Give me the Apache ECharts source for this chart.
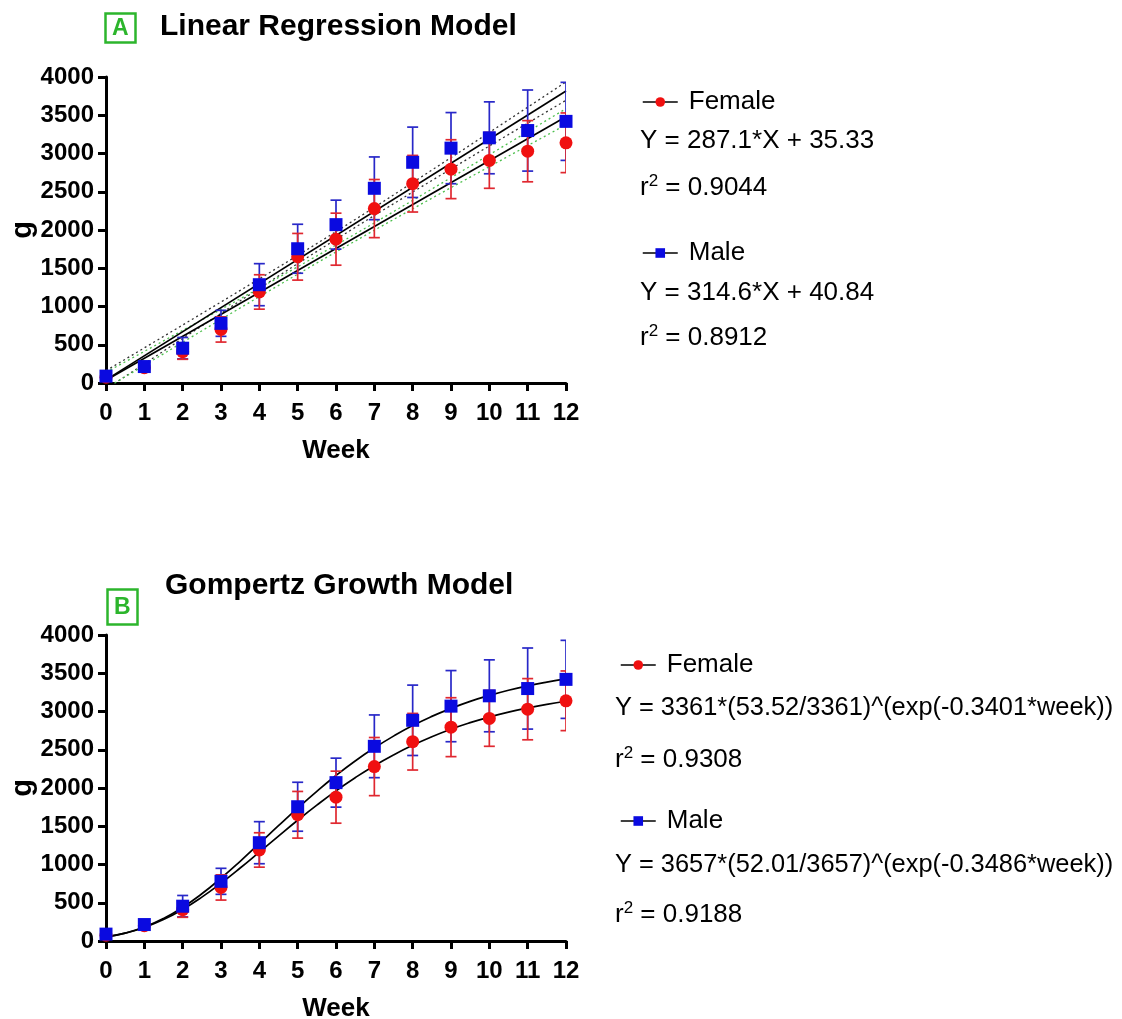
<!DOCTYPE html>
<html>
<head>
<meta charset="utf-8">
<script src="https://cdn.jsdelivr.net/npm/echarts@6/dist/echarts.min.js"></script>
<style>
  html, body { margin: 0; padding: 0; background: #fff; }
  #draw { width: 1122px; height: 1019px; }
</style>
</head>
<body>
<div id="draw"></div>
<script>
// weeks and measured body weight (g), mean and SD per sex
var weeks = [0, 1, 2, 3, 4, 5, 6, 7, 8, 9, 10, 11, 12];
var femaleMean = [75, 200, 410, 700, 1190, 1650, 1880, 2280, 2605, 2795, 2910, 3030, 3140];
var femaleSD = [30, 35, 100, 165, 225, 305, 340, 380, 370, 385, 365, 400, 390];
var maleMean = [90, 215, 455, 780, 1285, 1755, 2070, 2545, 2885, 3070, 3205, 3300, 3420];
var maleSD = [35, 40, 140, 170, 275, 320, 320, 410, 460, 465, 470, 530, 510];

// linear fit lines (panel A) read at week 0 and 12
var fitWeeks = [0, 12];
var femaleLinear = [35, 3481];
var maleLinear = [41, 3816];
// 95% bands around the linear fits, read per week
var femaleBandHi = [140, 413, 688, 962, 1239, 1519, 1803, 2093, 2387, 2684, 2984, 3285, 3586];
var femaleBandLo = [-70, 231, 532, 832, 1129, 1423, 1713, 1997, 2277, 2554, 2828, 3103, 3376];
var maleBandHi = [161, 459, 758, 1059, 1361, 1667, 1978, 2296, 2620, 2946, 3275, 3605, 3936];
var maleBandLo = [-79, 251, 582, 911, 1237, 1561, 1878, 2190, 2496, 2798, 3099, 3397, 3696];

// gompertz curves (panel B), read every half week
var curveWeeks = [0, 0.5, 1, 1.5, 2, 2.5, 3, 3.5, 4, 4.5, 5, 5.5, 6, 6.5, 7, 7.5, 8, 8.5, 9, 9.5, 10, 10.5, 11, 11.5, 12];
var femaleGompertz = [54, 102, 177, 280, 413, 573, 756, 954, 1162, 1372, 1578, 1776, 1963, 2135, 2292, 2433, 2559, 2671, 2769, 2854, 2928, 2992, 3046, 3094, 3134];
var maleGompertz = [52, 103, 182, 294, 440, 617, 821, 1042, 1274, 1508, 1737, 1957, 2163, 2353, 2524, 2678, 2816, 2936, 3040, 3132, 3210, 3278, 3336, 3385, 3427];

var yTicks = [0, 500, 1000, 1500, 2000, 2500, 3000, 3500, 4000];

var FONT = 'Arial, "Liberation Sans", sans-serif';
var RED = '#f01010';
var RED_BAR = '#e02830';
var BLUE = '#0a0ae0';
var BLUE_BAR = '#2828c8';

var myChart = echarts.init(document.getElementById('draw'));

function pairs(xs, ys) {
	return xs.map(function (x, i) { return [x, ys[i]]; });
}
function bars(mean, sd) {
	return weeks.map(function (w, i) { return [w, mean[i] - sd[i], mean[i] + sd[i]]; });
}
function errorBar(color) {
	return function (params, api) {
		var x = api.value(0);
		var lo = api.coord([x, api.value(1)]);
		var hi = api.coord([x, api.value(2)]);
		var w = 5.5;
		var st = { stroke: color, lineWidth: 1.7 };
		return {
			type: 'group',
			children: [
				{ type: 'line', shape: { x1: lo[0], y1: lo[1], x2: hi[0], y2: hi[1] }, style: st },
				{ type: 'line', shape: { x1: lo[0] - w, y1: lo[1], x2: lo[0] + w, y2: lo[1] }, style: st },
				{ type: 'line', shape: { x1: hi[0] - w, y1: hi[1], x2: hi[0] + w, y2: hi[1] }, style: st }
			]
		};
	};
}

function xAxisFor(idx) {
	return {
		type: 'value', gridIndex: idx, min: 0, max: 12, interval: 1,
		name: 'Week', nameLocation: 'middle', nameGap: 55, nameMoveOverlap: false,
		nameTextStyle: { fontFamily: FONT, fontWeight: 'bold', fontSize: 26, color: '#000' },
		axisLine: { lineStyle: { color: '#000', width: 3 } },
		axisTick: { length: 8, lineStyle: { color: '#000', width: 3 } },
		axisLabel: { margin: 18, fontFamily: FONT, fontWeight: 'bold', fontSize: 24, color: '#000' },
		splitLine: { show: false }
	};
}
function yAxisFor(idx) {
	return {
		type: 'value', gridIndex: idx, min: yTicks[0], max: yTicks[yTicks.length - 1], interval: 500,
		name: 'g', nameLocation: 'middle', nameGap: 69, nameRotate: 90, nameMoveOverlap: false,
		nameTextStyle: { fontFamily: FONT, fontWeight: 'bold', fontSize: 29, color: '#000' },
		axisLine: { show: true, lineStyle: { color: '#000', width: 3 } },
		axisTick: { show: true, length: 8, lineStyle: { color: '#000', width: 3 } },
		axisLabel: {
			margin: 12, fontFamily: FONT, fontWeight: 'bold', fontSize: 24, color: '#000',
			formatter: function (v) { return String(v); }
		},
		splitLine: { show: false }
	};
}

function pointSeries(name, idx, mean, symbol, color) {
	return {
		name: name, type: 'line', xAxisIndex: idx, yAxisIndex: idx,
		data: pairs(weeks, mean), symbol: symbol, symbolSize: 13, showSymbol: true,
		lineStyle: { opacity: 0 }, itemStyle: { color: color, opacity: 1 },
		z: name == 'Male' ? 6 : 5, silent: true, animation: false
	};
}
function barSeries(idx, mean, sd, color) {
	return {
		type: 'custom', xAxisIndex: idx, yAxisIndex: idx, clip: true,
		renderItem: errorBar(color), encode: { x: 0, y: [1, 2] },
		data: bars(mean, sd), z: 4, silent: true, animation: false
	};
}
function curveSeries(idx, xs, ys, style, smooth) {
	return {
		type: 'line', xAxisIndex: idx, yAxisIndex: idx, data: pairs(xs, ys),
		showSymbol: false, symbol: 'none', smooth: smooth, clip: true,
		lineStyle: style, z: 3, silent: true, animation: false
	};
}

var solid = { color: '#000', width: 1.7 };
var dotBlack = { color: '#333', width: 1.3, type: [2, 3] };
var dotGreen = { color: '#4cbf4c', width: 1.3, type: [2, 3] };

function legendFor(name, top, left) {
	return {
		data: [name], left: left, top: top, itemWidth: 35, itemHeight: 12, itemGap: 0,
		selectedMode: false,
		lineStyle: { color: '#000', width: 1.5, opacity: 1 },
		textStyle: { fontFamily: FONT, fontSize: 26, color: '#000', padding: [0, 0, 0, 6] }
	};
}
function textLine(text, left, centerY, size) {
	return {
		text: text, left: left, top: centerY - 15, padding: 0,
		textStyle: {
			fontFamily: FONT, fontSize: size, fontWeight: 'normal', color: '#000', lineHeight: 30,
			rich: {
				r: { fontFamily: FONT, fontSize: size, color: '#000', lineHeight: 30 },
				s: { fontFamily: FONT, fontSize: 17, color: '#000', verticalAlign: 'top', lineHeight: 30, padding: [0, 0, 10, 0] }
			}
		}
	};
}
function panelTitle(text, left, top) {
	return {
		text: text, left: left, top: top, padding: 0,
		textStyle: { fontFamily: FONT, fontSize: 30, fontWeight: 'bold', color: '#000' }
	};
}
function panelTag(text, left, top, pad) {
	return {
		text: text, left: left, top: top, padding: pad,
		borderColor: '#2cb52c', borderWidth: 2.5,
		textStyle: { fontFamily: FONT, fontSize: 23, fontWeight: 'bold', color: '#2cb52c' }
	};
}

var option = {
	backgroundColor: '#fff',
	animation: false,
	title: [
		panelTitle('Linear Regression Model', 160, 12),
		panelTitle('Gompertz Growth Model', 165, 571),
		panelTag('A', 105, 13, [4, 7, 3, 7]),
		panelTag('B', 107, 589, [7, 7, 6, 7]),
		textLine('Y = 287.1*X + 35.33', 640, 141, 26),
		textLine('{r|r}{s|2}{r| = 0.9044}', 640, 188, 26),
		textLine('Y = 314.6*X + 40.84', 640, 293, 26),
		textLine('{r|r}{s|2}{r| = 0.8912}', 640, 338, 26),
		textLine('Y = 3361*(53.52/3361)^(exp(-0.3401*week))', 615, 708, 25.4),
		textLine('{r|r}{s|2}{r| = 0.9308}', 615, 760, 26),
		textLine('Y = 3657*(52.01/3657)^(exp(-0.3486*week))', 615, 865, 25.4),
		textLine('{r|r}{s|2}{r| = 0.9188}', 615, 915, 26)
	],
	legend: [
		legendFor('Female', 84, 637),
		legendFor('Male', 235, 637),
		legendFor('Female', 647, 615),
		legendFor('Male', 803, 615)
	],
	grid: [
		{ left: 106, top: 77, width: 460, height: 306, outerBoundsMode: 'none' },
		{ left: 106, top: 635, width: 460, height: 306, outerBoundsMode: 'none' }
	],
	xAxis: [xAxisFor(0), xAxisFor(1)],
	yAxis: [yAxisFor(0), yAxisFor(1)],
	series: [
		// panel A: linear fits with bands
		curveSeries(0, weeks, maleBandHi, dotBlack, false),
		curveSeries(0, weeks, maleBandLo, dotBlack, false),
		curveSeries(0, weeks, femaleBandHi, dotGreen, false),
		curveSeries(0, weeks, femaleBandLo, dotGreen, false),
		curveSeries(0, fitWeeks, maleLinear, solid, false),
		curveSeries(0, fitWeeks, femaleLinear, solid, false),
		barSeries(0, maleMean, maleSD, BLUE_BAR),
		barSeries(0, femaleMean, femaleSD, RED_BAR),
		pointSeries('Female', 0, femaleMean, 'circle', RED),
		pointSeries('Male', 0, maleMean, 'rect', BLUE),
		// panel B: gompertz fits
		curveSeries(1, curveWeeks, maleGompertz, solid, true),
		curveSeries(1, curveWeeks, femaleGompertz, solid, true),
		barSeries(1, maleMean, maleSD, BLUE_BAR),
		barSeries(1, femaleMean, femaleSD, RED_BAR),
		pointSeries('Female', 1, femaleMean, 'circle', RED),
		pointSeries('Male', 1, maleMean, 'rect', BLUE)
	]
};
myChart.setOption(option);
</script>
</body>
</html>
